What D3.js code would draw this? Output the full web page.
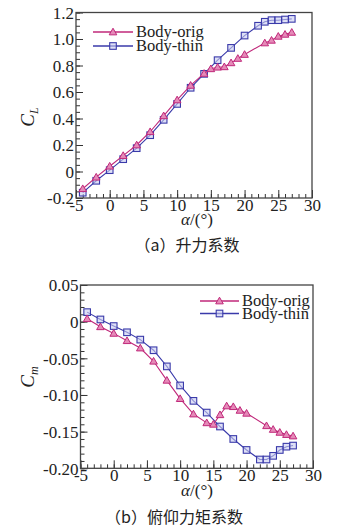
<!DOCTYPE html>
<html><head><meta charset="utf-8">
<script src="https://cdn.jsdelivr.net/npm/d3@7"></script>
<style>body{margin:0;background:#fff}svg{display:block}</style>
</head><body>
<script>
// ---- data ----
const alphaOrig = [-4,-2,0,2,4,6,8,10,12,14,15,16,17,18,19,20,23,24,25,26,27];
const alphaThin = [-4,-2,0,2,4,6,8,10,12,14,16,18,20,22,23,24,25,26,27];
const clOrig = [-0.13,-0.043,0.04,0.12,0.20,0.30,0.42,0.54,0.65,0.74,0.775,0.787,0.79,0.82,0.853,0.883,0.97,0.99,1.02,1.035,1.05];
const clThin = [-0.16,-0.07,0.01,0.093,0.176,0.274,0.39,0.51,0.632,0.737,0.84,0.933,1.026,1.10,1.13,1.142,1.142,1.147,1.152];
const cmOrig = [0.004,-0.007,-0.016,-0.026,-0.036,-0.054,-0.08,-0.105,-0.126,-0.138,-0.14,-0.127,-0.115,-0.116,-0.121,-0.125,-0.142,-0.147,-0.151,-0.154,-0.156];
const cmThin = [0.013,0.003,-0.006,-0.0145,-0.0245,-0.039,-0.061,-0.087,-0.108,-0.124,-0.143,-0.16,-0.175,-0.188,-0.188,-0.183,-0.175,-0.1705,-0.169];
const xTicks = [-5,0,5,10,15,20,25,30];
const clTicks = [-0.2,0,0.2,0.4,0.6,0.8,1.0,1.2];
const clTickLabels = ["-0.2","0","0.2","0.4","0.6","0.8","1.0","1.2"];
const cmTicks = [-0.20,-0.15,-0.10,-0.05,0,0.05];
const cmTickLabels = ["-0.20","-0.15","-0.10","-0.05","0","0.05"];
const seriesNames = ["Body-orig","Body-thin"];
const captions = ["（a）升力系数","（b）俯仰力矩系数"];

const W=355,H=529;
const cOrig="#c0287a", cThin="#3a3aaa";
const fOrig="#e58ab8", fThin="#c8ccf0";
const serif="'Liberation Serif','Times New Roman',serif";
const svg=d3.select("body").append("svg").attr("width",W).attr("height",H);

function panel(o){
  const g=svg.append("g");
  const x=d3.scaleLinear().domain([-5,30]).range([o.l,o.r]);
  const y=d3.scaleLinear().domain(o.ydom).range([o.b,o.t]);
  const xMinor=d3.range(-5,30.001,1);
  const yMinor=d3.range(o.ydom[0],o.ydom[1]+1e-9,o.yminor);
  g.append("g").attr("transform",`translate(0,${o.b})`)
    .call(d3.axisBottom(x).tickValues(xMinor).tickSize(-4).tickFormat(""))
    .call(a=>{a.select(".domain").remove();a.selectAll("line").attr("stroke","#333");});
  g.append("g").attr("transform",`translate(0,${o.b})`)
    .call(d3.axisBottom(x).tickValues(xTicks).tickSize(-8).tickPadding(0).tickFormat(d=>d))
    .call(a=>{a.select(".domain").remove();a.selectAll("line").attr("stroke","#333");
      a.attr("font-family",serif).attr("font-size",17);
      a.selectAll("text").attr("fill","#222").attr("dy",null).attr("y",12.5);});
  g.append("g").attr("transform",`translate(${o.l},0)`)
    .call(d3.axisLeft(y).tickValues(yMinor).tickSize(-4).tickFormat(""))
    .call(a=>{a.select(".domain").remove();a.selectAll("line").attr("stroke","#333");});
  g.append("g").attr("transform",`translate(${o.l},0)`)
    .call(d3.axisLeft(y).tickValues(o.yticks).tickSize(-7).tickPadding(0).tickFormat((d,i)=>o.ylabels[i]))
    .call(a=>{a.select(".domain").remove();a.selectAll("line").attr("stroke","#333");
      a.attr("font-family",serif).attr("font-size",17);
      a.selectAll("text").attr("fill","#222").attr("x",-2).attr("dy","0.34em");});
  g.append("rect").attr("x",o.l).attr("y",o.t).attr("width",o.r-o.l).attr("height",o.b-o.t)
    .attr("fill","none").attr("stroke","#444").attr("stroke-width",1.3);
  const line=d3.line().x(d=>x(d[0])).y(d=>y(d[1]));
  const ser=[{xs:alphaThin,ys:o.thin,c:cThin,f:fThin,sym:"sq"},{xs:alphaOrig,ys:o.orig,c:cOrig,f:fOrig,sym:"tri"}];
  ser.forEach(s=>{
    const pts=s.xs.map((a,i)=>[a,s.ys[i]]);
    g.append("path").attr("d",line(pts)).attr("fill","none").attr("stroke",s.c).attr("stroke-width",1.1);
    pts.forEach(p=>marker(g,x(p[0]),y(p[1]),s));
  });
  const lg=[{s:ser[1],n:seriesNames[0]},{s:ser[0],n:seriesNames[1]}];
  lg.forEach((e,i)=>{
    const ly=o.legY+i*o.legDy;
    g.append("line").attr("x1",o.legX).attr("x2",o.legX+o.legW).attr("y1",ly).attr("y2",ly).attr("stroke",e.s.c).attr("stroke-width",1.3);
    marker(g,o.legX+o.legW/2,ly,e.s);
    g.append("text").attr("x",o.legX+o.legW+3).attr("y",ly+5).attr("font-family",serif).attr("font-size",16.5).attr("fill","#222").text(e.n);
  });
  const xt=g.append("text").attr("x",o.axX).attr("y",o.axY).attr("text-anchor","middle").attr("font-family",serif).attr("font-size",17).attr("fill","#222");
  xt.append("tspan").attr("font-style","italic").text("α");
  xt.append("tspan").text("/(°)");
  const yt=g.append("text").attr("transform",`translate(${o.ytX},${o.ytY}) rotate(-90)`).attr("text-anchor","middle").attr("font-family",serif).attr("font-size",19).attr("fill","#222");
  yt.append("tspan").attr("font-style","italic").text("C");
  yt.append("tspan").attr("font-style","italic").attr("font-size",12).attr("dy",4).text(o.sub);
  g.append("text").attr("x",o.capX).attr("y",o.capY).attr("text-anchor","middle").attr("font-family","'Noto Sans CJK SC',sans-serif").attr("font-size",16).attr("fill","#222").text(o.cap);
}
function marker(g,cx,cy,s){
  if(s.sym==="tri"){
    const r=3.8;
    g.append("path").attr("d",`M${cx},${cy-r}L${cx+r},${cy+r*0.75}L${cx-r},${cy+r*0.75}Z`).attr("fill",s.f).attr("stroke",s.c).attr("stroke-width",1);
  } else {
    const h=3.3;
    g.append("rect").attr("x",cx-h).attr("y",cy-h).attr("width",2*h).attr("height",2*h).attr("fill",s.f).attr("fill-opacity",0.6).attr("stroke",s.c).attr("stroke-width",1.1);
  }
}
panel({l:76,r:312,t:12.5,b:198,ydom:[-0.2,1.2],yminor:0.05,yticks:clTicks,ylabels:clTickLabels,
  orig:clOrig,thin:clThin,legX:93,legW:40,legY:32,legDy:14,axX:197,axY:225,ytX:34,ytY:117,sub:"L",
  capX:187,capY:251,cap:captions[0]});
panel({l:80.5,r:313,t:285,b:468.3,ydom:[-0.20,0.05],yminor:0.01,yticks:cmTicks,ylabels:cmTickLabels,
  orig:cmOrig,thin:cmThin,legX:200,legW:39,legY:301,legDy:12.5,axX:197,axY:496,ytX:34,ytY:377,sub:"m",
  capX:174,capY:523,cap:captions[1]});
</script>
</body></html>
